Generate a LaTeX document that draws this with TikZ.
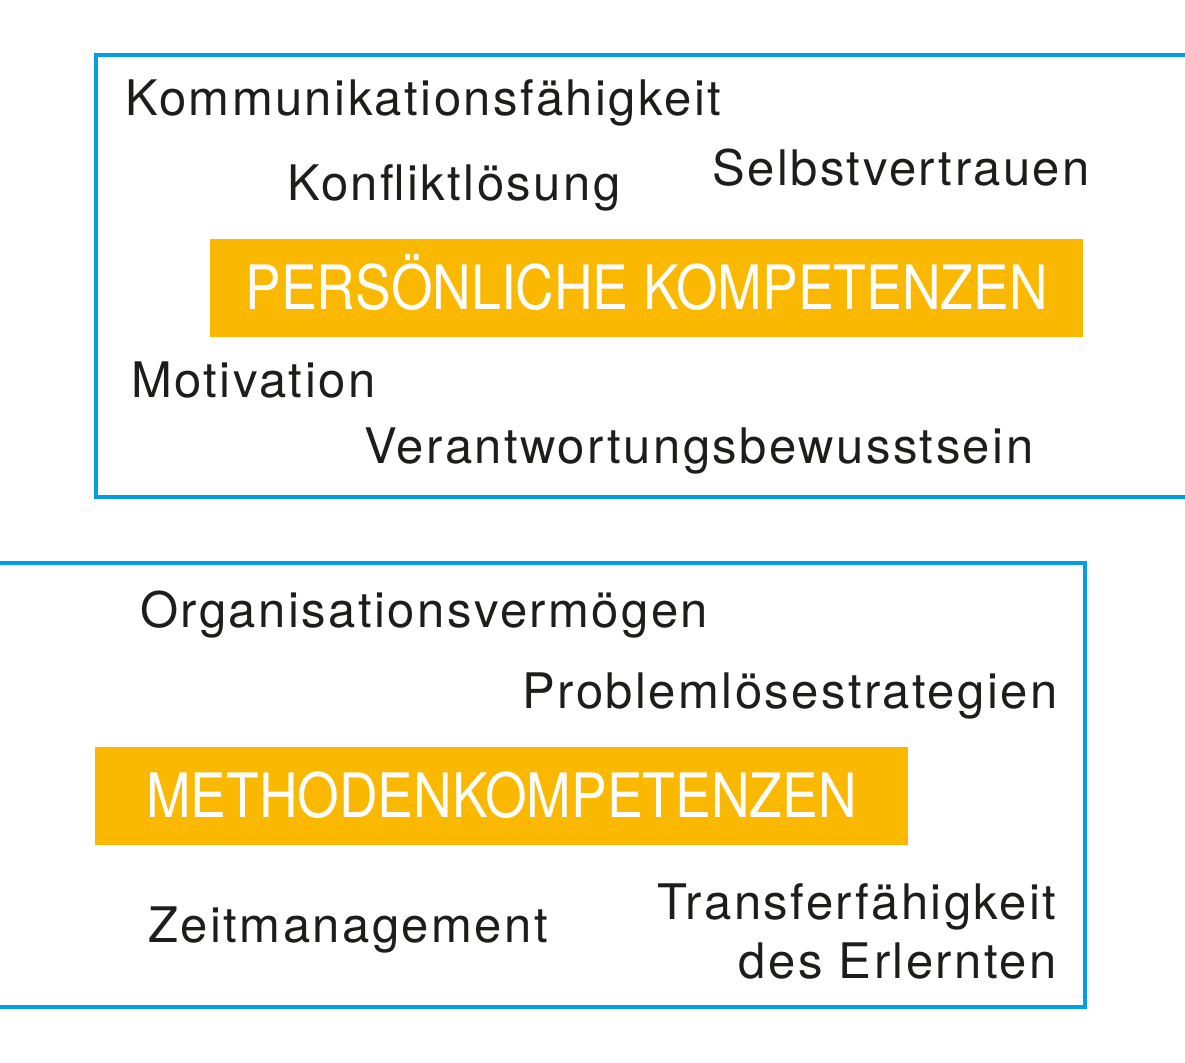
\documentclass[tikz,border=0pt]{standalone}
\usepackage{fontspec}
\setmainfont{TeX Gyre Heros}
\newfontfamily\skillfont[LetterSpace=5.0]{TeX Gyre Heros}
\newfontfamily\headfont[FakeStretch=0.874]{TeX Gyre Heros}
\definecolor{frameblue}{HTML}{009FE3}
\definecolor{headorange}{HTML}{FAB900}
\definecolor{skillblack}{HTML}{1D1D1B}
\tikzset{
    skill/.style={anchor=base west, inner sep=0pt, text=skillblack,
        font=\skillfont\fontsize{24.5}{29.5}\selectfont},
    heading/.style={fill=headorange, text=white, inner sep=0pt,
        minimum width=#1, minimum height=49pt, text height=22pt, text depth=0pt,
        font=\headfont\fontsize{30.6}{34}\selectfont},
    frame/.style={draw=frameblue, line width=1.8pt}
}
\begin{document}
\begin{tikzpicture}[x=0.5pt, y=-0.5pt]
    \useasboundingbox (0, 0) rectangle (1185, 1063);
    % frames
    \draw[frame] (1200, 55) -- (96, 55) -- (96, 497) -- (1200, 497);
    \draw[frame] (-20, 563) -- (1085, 563) -- (1085, 1007) -- (-20, 1007);
    % headings
    \node[heading=436.5pt] (persoenlich) at (646.5, 288) {PERSÖNLICHE KOMPETENZEN\hspace{7pt}};
    \node[heading=406.5pt] (methoden) at (501.5, 796) {METHODENKOMPETENZEN};
    % skills
    \foreach \name/\x/\y/\txt in {
            komm/125/116/Kommunikationsfähigkeit,
            konflikt/287/201/Konfliktlösung,
            selbst/712/186/Selbstvertrauen,
            motiv/131/398/Motivation,
            verantw/364/464/Verantwortungsbewusstsein,
            orga/140/628/Organisationsvermögen,
            problem/522/709/Problemlösestrategien,
            zeit/148/943/Zeitmanagement}
        \node[skill] (\name) at (\x, \y) {\txt};
    \node[skill, anchor=base east, align=right] (transfer) at (1057, 979)
        {Transferfähigkeit\\des Erlernten};
\end{tikzpicture}
\end{document}
